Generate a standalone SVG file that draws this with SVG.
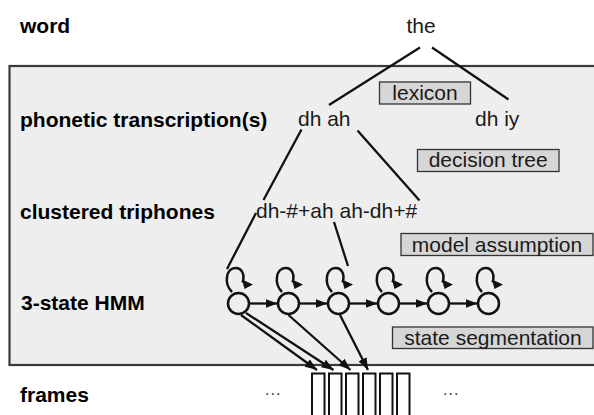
<svg xmlns="http://www.w3.org/2000/svg" width="594" height="415" viewBox="0 0 594 415">
<style>
.lbl{font-family:"Liberation Sans",Arial,sans-serif;font-size:21px;font-weight:bold;fill:#000}
.t{font-family:"Liberation Sans",Arial,sans-serif;font-size:21px;fill:#1a1a1a}
.tag rect{fill:#d6d6d6;stroke:#333;stroke-width:1.3}
.ln{stroke:#111;stroke-width:2.3;fill:none}
.st{fill:none;stroke:#111;stroke-width:2.5}
.fr{fill:#fff;stroke:#111;stroke-width:2}
.ah{fill:#111}
.dots{font-family:"Liberation Sans",Arial,sans-serif;font-size:16px;fill:#333;letter-spacing:1px}
</style>
<defs>
<marker id="arr" markerWidth="12" markerHeight="9" refX="12" refY="4.5" orient="auto" markerUnits="userSpaceOnUse">
<path d="M0,0 L12,4.5 L0,9 Z" fill="#111"/>
</marker>
<g id="loop">
<path d="M-6.5,-11.5 C-15,-20 -12.5,-35.5 -3,-35.5 C4,-35.5 6.5,-28 4,-21" class="st"/>
<path d="M3.5,-24 L14.5,-19 L6,-14.5 Z" class="ah"/>
</g>
</defs>
<rect x="0" y="0" width="594" height="415" fill="#fff"/>
<rect id="container" x="9.5" y="66" width="600" height="299" fill="#eeeeee" stroke="#3a3a3a" stroke-width="2.2"/>

<g id="row-labels">
<text class="lbl" x="20" y="33">word</text>
<text class="lbl" x="20" y="127">phonetic transcription(s)</text>
<text class="lbl" x="20" y="219">clustered triphones</text>
<text class="lbl" x="21" y="310">3-state HMM</text>
<text class="lbl" x="20" y="402">frames</text>
</g>

<g id="connectors">
<line class="ln" x1="420" y1="47.5" x2="329" y2="105"/>
<line class="ln" x1="432" y1="47.5" x2="508.5" y2="99.5"/>
<line class="ln" x1="301.5" y1="129.5" x2="263.5" y2="200"/>
<line class="ln" x1="357.5" y1="130.5" x2="419.5" y2="200.5"/>
<line class="ln" x1="256" y1="213" x2="227" y2="269"/>
<line class="ln" x1="334" y1="222" x2="348" y2="266"/>
<line class="ln" x1="249" y1="303.5" x2="277.5" y2="303.5" marker-end="url(#arr)"/>
<line class="ln" x1="299" y1="303.5" x2="327.5" y2="303.5" marker-end="url(#arr)"/>
<line class="ln" x1="349" y1="303.5" x2="377.5" y2="303.5" marker-end="url(#arr)"/>
<line class="ln" x1="399" y1="303.5" x2="427.5" y2="303.5" marker-end="url(#arr)"/>
<line class="ln" x1="449" y1="303.5" x2="477.5" y2="303.5" marker-end="url(#arr)"/>
<line class="ln" x1="241" y1="315" x2="317" y2="370" marker-end="url(#arr)"/>
<line class="ln" x1="246" y1="313" x2="333.5" y2="370" marker-end="url(#arr)"/>
<line class="ln" x1="288.5" y1="315" x2="350.5" y2="370" marker-end="url(#arr)"/>
<line class="ln" x1="340" y1="315" x2="368" y2="370" marker-end="url(#arr)"/>
</g>

<g id="word-the"><text class="t" x="421" y="33" text-anchor="middle">the</text></g>
<g id="pron-dh-ah"><text class="t" x="298" y="126">dh ah</text></g>
<g id="pron-dh-iy"><text class="t" x="475" y="126">dh iy</text></g>
<g id="tri-1"><text class="t" x="256" y="218">dh-#+ah</text></g>
<g id="tri-2"><text class="t" x="339.5" y="218">ah-dh+#</text></g>

<g id="tag-lexicon" class="tag"><rect x="379.5" y="82" width="91" height="22"/><text class="t" x="425" y="100" text-anchor="middle">lexicon</text></g>
<g id="tag-decision-tree" class="tag"><rect x="417.5" y="149.5" width="141.5" height="22"/><text class="t" x="488.2" y="167" text-anchor="middle">decision tree</text></g>
<g id="tag-model-assumption" class="tag"><rect x="401" y="233.5" width="192" height="22"/><text class="t" x="497" y="252" text-anchor="middle">model assumption</text></g>
<g id="tag-state-segmentation" class="tag"><rect x="392.5" y="327" width="200.5" height="21.5"/><text class="t" x="493" y="345" text-anchor="middle">state segmentation</text></g>

<g id="state-1"><circle class="st" cx="238.5" cy="303.5" r="10.5"/><use href="#loop" x="238.5" y="303.5"/></g>
<g id="state-2"><circle class="st" cx="288.5" cy="303.5" r="10.5"/><use href="#loop" x="288.5" y="303.5"/></g>
<g id="state-3"><circle class="st" cx="338.5" cy="303.5" r="10.5"/><use href="#loop" x="338.5" y="303.5"/></g>
<g id="state-4"><circle class="st" cx="388.5" cy="303.5" r="10.5"/><use href="#loop" x="388.5" y="303.5"/></g>
<g id="state-5"><circle class="st" cx="438.5" cy="303.5" r="10.5"/><use href="#loop" x="438.5" y="303.5"/></g>
<g id="state-6"><circle class="st" cx="488.5" cy="303.5" r="10.5"/><use href="#loop" x="488.5" y="303.5"/></g>

<g id="frames">
<rect class="fr" x="312" y="373.5" width="12.5" height="50"/>
<rect class="fr" x="329" y="373.5" width="12.5" height="50"/>
<rect class="fr" x="346" y="373.5" width="12.5" height="50"/>
<rect class="fr" x="363" y="373.5" width="12.5" height="50"/>
<rect class="fr" x="380" y="373.5" width="12.5" height="50"/>
<rect class="fr" x="397" y="373.5" width="12.5" height="50"/>
<text class="dots" x="265" y="395">...</text>
<text class="dots" x="443" y="395">...</text>
</g>
</svg>
